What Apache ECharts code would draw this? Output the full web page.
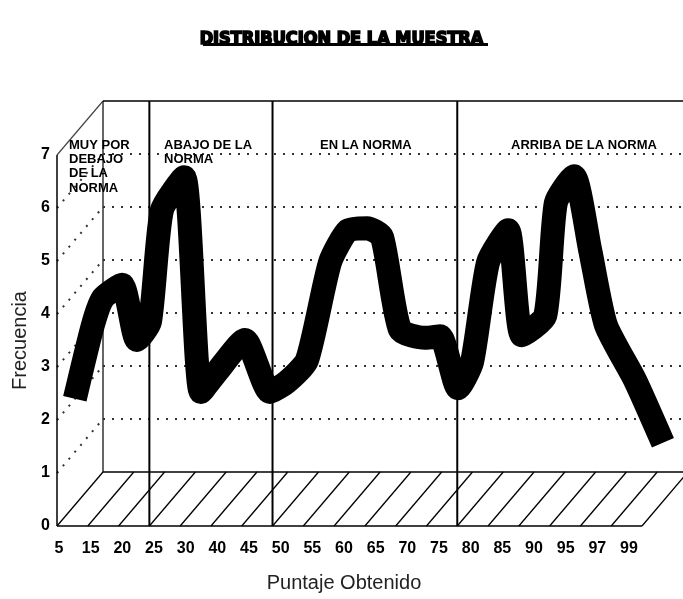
<!DOCTYPE html>
<html>
<head>
<meta charset="utf-8">
<script src="https://cdn.jsdelivr.net/npm/echarts@6/dist/echarts.min.js"></script>
<style>
  html, body { margin: 0; padding: 0; background: #fff; }
  #chart { width: 683px; height: 599px; }
</style>
</head>
<body>
<div id="chart"></div>
<script>
// etiquetas del eje x (puntaje obtenido)
const categorias = ['5', '15', '20', '25', '30', '40', '45', '50', '55', '60', '65', '70', '75', '80', '85', '90', '95', '97', '99']
// la cinta: posicion sobre el eje x (en unidades de categoria) y frecuencia leida
const cintaPos = [0.5, 1.07, 1.39, 1.99, 2.46, 2.87, 3.25, 3.95, 4.48, 4.99, 5.87, 6.66, 7.2, 7.83, 8.56, 9.13, 9.73, 10.2, 10.77, 11.56, 12.03, 12.6, 13.04, 13.55, 14.18, 14.62, 15.35, 15.69, 16.26, 16.77, 17.27, 18.19, 19.07]
const cintaFrec = [2.4, 3.79, 4.3, 4.55, 3.51, 3.85, 5.96, 6.58, 2.53, 2.91, 3.51, 2.53, 2.72, 3.13, 4.98, 5.58, 5.62, 5.45, 3.7, 3.55, 3.58, 2.6, 3.09, 4.98, 5.58, 3.6, 3.96, 6.1, 6.6, 5.21, 3.79, 2.75, 1.57]
// rangos y sus titulos
const secciones = ['MUY POR\nDEBAJO\nDE LA\nNORMA', 'ABAJO DE LA\nNORMA', 'EN LA NORMA', 'ARRIBA DE LA NORMA']
const seccionCortes = [3, 7, 13] // en franjas del piso
const seccionTextoX = [69, 164, 320, 511]

const chart = echarts.init(document.getElementById('chart'))

const fuente = 'Liberation Sans'
const ancho = 31.67 // px por categoria
chart.setOption({
  animation: false,
  title: {
    text: 'DISTRIBUCION DE LA MUESTRA',
    left: 'center',
    top: 25,
    textStyle: {
      fontFamily: 'DejaVu Sans Condensed', fontWeight: 900, fontSize: 18, color: '#000',
      textBorderColor: '#000', textBorderWidth: 1.6,
    },
  },
  grid: [
    { left: 59, right: 54, top: 155, bottom: 73, outerBoundsMode: 'none' },
    // misma escala, pero mas ancha para que la cinta no se recorte
    { left: 59, right: 0, top: 155, bottom: 73, outerBoundsMode: 'none' },
  ],
  xAxis: [{
    type: 'category',
    data: categorias,
    boundaryGap: false,
    axisLine: { show: false },
    axisTick: { show: false },
    axisLabel: { interval: 0, margin: 15, fontFamily: fuente, fontWeight: 'bold', fontSize: 16, color: '#000' },
    name: 'Puntaje Obtenido',
    nameLocation: 'middle',
    nameGap: 47,
    nameTextStyle: { fontFamily: fuente, fontSize: 20, color: '#222' },
  }, {
    type: 'value',
    gridIndex: 1,
    min: 0,
    max: 624 / ancho,
    show: false,
  }],
  yAxis: [{
    type: 'value',
    min: 0,
    max: 7,
    interval: 1,
    axisLine: { show: false },
    axisTick: { show: false },
    splitLine: { show: false },
    axisLabel: { margin: 9, fontFamily: fuente, fontWeight: 'bold', fontSize: 16, color: '#000' },
    name: 'Frecuencia',
    nameLocation: 'middle',
    nameGap: 24,
    nameTextStyle: { fontFamily: fuente, fontSize: 20, color: '#222' },
  }, {
    type: 'value',
    gridIndex: 1,
    min: 0,
    max: 7,
    show: false,
  }],
  series: [{
    type: 'line',
    xAxisIndex: 1,
    yAxisIndex: 1,
    data: cintaPos.map((p, i) => [p, cintaFrec[i]]),
    symbol: 'none',
    smooth: 0.2,
    clip: false,
    z: 3,
    lineStyle: { color: '#000', width: 24, join: 'round', cap: 'butt' },
  }],
})

// marco en pseudo 3D (piso rayado, pared del fondo, divisiones)
function dibujarMarco () {
  const yPix = (v) => chart.convertToPixel({ yAxisIndex: 0 }, v)
  const x0 = chart.convertToPixel({ xAxisIndex: 1 }, 0)
  const prof = [46, -54]
  const pisoIzq = x0 - 2
  const pisoDer = pisoIzq + 585
  const franja = (pisoDer - pisoIzq) / 19
  const yFrente = yPix(0)
  const yTope = yPix(7) + prof[1]
  const atrasIzq = pisoIzq + prof[0]
  const g = []
  const linea = (x1, y1, x2, y2, estilo) => g.push({
    type: 'line', z: 1, shape: { x1, y1, x2, y2 },
    style: Object.assign({ stroke: '#000', lineWidth: 1.5 }, estilo),
  })
  const punteado = { stroke: '#333', lineWidth: 2, lineDash: [2, 7] }

  for (let v = 1; v <= 6; v++) {
    linea(atrasIzq, yPix(v) + prof[1], 683, yPix(v) + prof[1], punteado)
    linea(pisoIzq, yPix(v), atrasIzq, yPix(v) + prof[1], punteado)
  }
  // pared izquierda y techo
  linea(pisoIzq, yFrente, pisoIzq, yPix(7))
  linea(pisoIzq, yPix(7), atrasIzq, yTope, { lineWidth: 1.2, stroke: '#444' })
  linea(atrasIzq, yFrente + prof[1], atrasIzq, yTope, { lineWidth: 1.5, stroke: '#333' })
  linea(atrasIzq, yTope, 683, yTope)
  // piso
  linea(pisoIzq, yFrente, pisoDer, yFrente)
  linea(atrasIzq, yFrente + prof[1], pisoDer + prof[0], yFrente + prof[1])
  for (let k = 0; k <= 19; k++) {
    const x = pisoIzq + k * franja
    linea(x, yFrente, x + prof[0], yFrente + prof[1], { lineWidth: 1.3 })
  }
  // divisiones entre rangos
  seccionCortes.forEach((k) => {
    const x = pisoIzq + k * franja
    linea(x, yFrente, x, yTope, { lineWidth: 2 })
  })
  // titulos de cada rango
  secciones.forEach((t, i) => {
    g.push({
      type: 'text', z: 5, x: seccionTextoX[i], y: yPix(7) - 17,
      style: { text: t, fill: '#000', font: 'bold 13px "Liberation Sans"', lineHeight: 14.3 },
    })
  })
  // subrayado del titulo
  g.push({ type: 'rect', z: 5, shape: { x: 203, y: 43, width: 285, height: 3 }, style: { fill: '#000' } })
  chart.setOption({ graphic: g })
}

dibujarMarco()
</script>
</body>
</html>
